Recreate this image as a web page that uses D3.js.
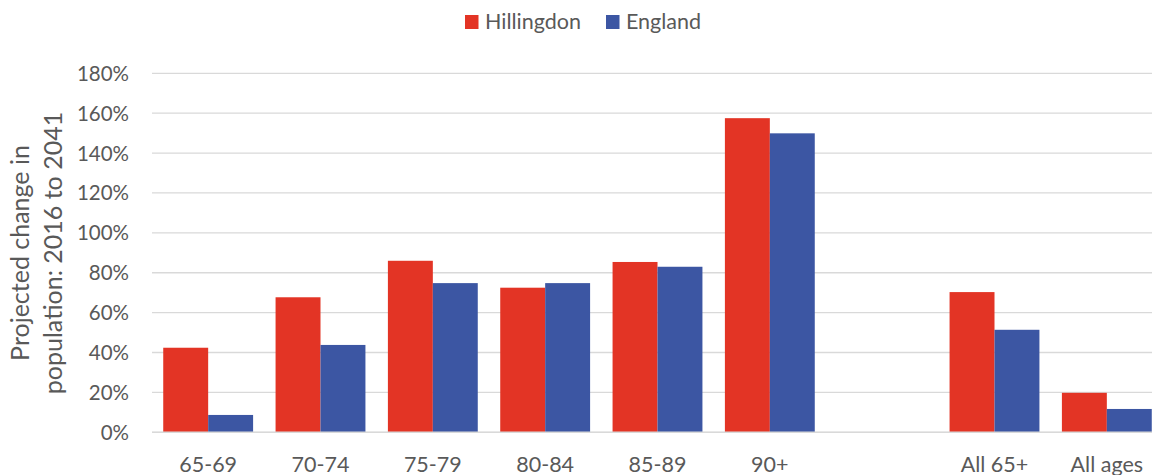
<!DOCTYPE html>
<html>
<head>
<meta charset="utf-8">
<script src="https://cdn.jsdelivr.net/npm/d3@7"></script>
<style>
  html, body { margin: 0; padding: 0; background: #fff; }
  svg { display: block; }
  text { font-family: Lato, "Open Sans", sans-serif; fill: #595959; }
</style>
</head>
<body>
<svg id="chart" width="1152" height="475"></svg>
<script>
const categories = ["65-69", "70-74", "75-79", "80-84", "85-89", "90+", "", "All 65+", "All ages"];
const hillingdon = [42.4, 67.7, 86.0, 72.5, 85.4, 157.5, null, 70.3, 19.8];
const england    = [8.7, 43.8, 74.8, 74.8, 83.0, 149.9, null, 51.4, 11.7];
const seriesNames = ["Hillingdon", "England"];
const seriesColors = ["#E33425", "#3C56A3"];
const yTicks = [0, 20, 40, 60, 80, 100, 120, 140, 160, 180];

const svg = d3.select("#chart");

const slotKeys = categories.map((c, i) => "c" + i);
const x = d3.scaleBand().domain(slotKeys).range([152, 1163]).paddingInner(0.2).paddingOuter(0.1);
const x1 = d3.scaleBand().domain(seriesNames).range([0, x.bandwidth()]).padding(0);
const y = d3.scaleLinear().domain([0, 180]).range([432.3, 73.3]);

// gridlines
svg.append("g").selectAll("line").data(yTicks).join("line")
  .attr("x1", 152).attr("x2", 1163)
  .attr("y1", d => y(d)).attr("y2", d => y(d))
  .attr("stroke", "#D9D9D9").attr("stroke-width", 1.3);

// y tick labels
svg.append("g").selectAll("text").data(yTicks).join("text")
  .attr("x", 129).attr("y", d => y(d) + 7.5)
  .attr("text-anchor", "end")
  .attr("font-size", 20.5)
  .text(d => d + "%");

// bars
const data = [];
categories.forEach((c, i) => {
  [hillingdon, england].forEach((s, j) => {
    if (s[i] != null) data.push({ key: slotKeys[i], series: seriesNames[j], value: s[i], color: seriesColors[j] });
  });
});
svg.append("g").selectAll("rect").data(data).join("rect")
  .attr("x", d => x(d.key) + x1(d.series))
  .attr("width", x1.bandwidth())
  .attr("y", d => y(d.value))
  .attr("height", d => y(0) - y(d.value))
  .attr("fill", d => d.color);

// baseline
svg.append("line").attr("x1", 152).attr("x2", 1163).attr("y1", y(0)).attr("y2", y(0))
  .attr("stroke", "#D9D9D9").attr("stroke-width", 1.5);

// category labels
svg.append("g").selectAll("text").data(categories.map((c, i) => ({ c, k: slotKeys[i] }))).join("text")
  .attr("x", d => x(d.k) + x.bandwidth() / 2)
  .attr("y", 471.5)
  .attr("text-anchor", "middle")
  .attr("font-size", 21.5)
  .text(d => d.c);

// y axis title
const yt = svg.append("text")
  .attr("transform", "translate(0,253) rotate(-90)")
  .attr("text-anchor", "middle")
  .attr("font-size", 25);
yt.append("tspan").attr("x", 0).attr("y", 29).text("Projected change in");
yt.append("tspan").attr("x", 0).attr("y", 62).text("population: 2016 to 2041");

// legend
const legendItems = [
  { name: seriesNames[0], color: seriesColors[0], x: 465, tx: 485 },
  { name: seriesNames[1], color: seriesColors[1], x: 606, tx: 626 }
];
const lg = svg.append("g");
legendItems.forEach(it => {
  lg.append("rect").attr("x", it.x).attr("y", 15).attr("width", 13.5).attr("height", 14).attr("fill", it.color);
  lg.append("text").attr("x", it.tx).attr("y", 29).attr("font-size", 21.5).text(it.name);
});
</script>
</body>
</html>
